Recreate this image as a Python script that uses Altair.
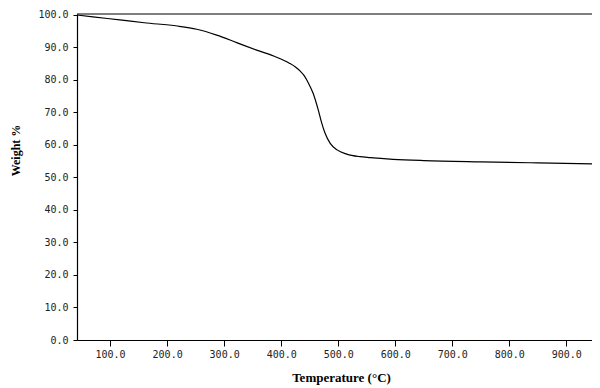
import altair as alt
import pandas as pd

temperature = [42, 70, 117, 160, 218, 252, 287, 322, 357, 392, 405, 415, 425, 433, 440, 447, 456,
               465, 471, 477, 486, 498, 515, 538, 556, 596, 650, 749, 850, 945]
weight = [100.0, 99.4, 98.5, 97.6, 96.6, 95.6, 93.8, 91.5, 89.2, 87.0, 86.0, 85.1, 84.0, 82.8, 81.4,
          79.3, 75.9, 70.8, 66.8, 63.6, 60.5, 58.5, 57.2, 56.4, 56.1, 55.6, 55.2, 54.8, 54.5, 54.2]
x_ticks = [100, 200, 300, 400, 500, 600, 700, 800, 900]
y_ticks = [0, 10, 20, 30, 40, 50, 60, 70, 80, 90, 100]
top_line = [100.3]

df = pd.DataFrame({"T": temperature, "W": weight})
top_df = pd.DataFrame({"y": top_line})

xscale = alt.Scale(domain=[42, 945], nice=False, zero=False)
yscale = alt.Scale(domain=[0, 100.3], nice=False)

label_font = "DejaVu Sans Mono"
title_font = "Liberation Serif"

x_axis = alt.Axis(title="Temperature (°C)", values=x_ticks, format=".1f",
                  grid=False, domainColor="black", domainWidth=1.2,
                  tickColor="black", tickSize=6, labelPadding=3,
                  labelOverlap=False, labelFlush=False,
                  labelFont=label_font, labelFontSize=10, labelColor="#222",
                  titleFont=title_font, titleFontSize=13, titleFontWeight="bold",
                  titleColor="black", titleX=264, titleY=37,
                  titleBaseline="middle", titleAlign="center")
y_axis = alt.Axis(title="Weight %", values=y_ticks, format=".1f",
                  grid=False, domainColor="black", domainWidth=1.2,
                  tickColor="black", tickSize=4, labelPadding=5,
                  labelOverlap=False, labelFlush=False,
                  labelFont=label_font, labelFontSize=10, labelColor="#222",
                  titleFont=title_font, titleFontSize=12, titleFontWeight="bold",
                  titleColor="black", titleX=-62, titleY=136, titleAngle=-90,
                  titleBaseline="middle", titleAlign="center")

curve = alt.Chart(df).mark_line(color="black", strokeWidth=1.2, interpolate="monotone").encode(
    x=alt.X("T:Q", scale=xscale, axis=x_axis),
    y=alt.Y("W:Q", scale=yscale, axis=y_axis),
)

top = alt.Chart(top_df).mark_rule(color="black", strokeWidth=1.2).encode(
    y=alt.Y("y:Q", scale=yscale, axis=y_axis)
)

chart = alt.layer(curve, top).properties(
    width=515, height=326,
    autosize=alt.AutoSizeParams(type="none"),
    padding={"left": 69, "top": 6, "right": 0, "bottom": 46},
).configure_view(stroke=None)

chart.save("out.html", embed_options={"renderer": "svg", "actions": False})
